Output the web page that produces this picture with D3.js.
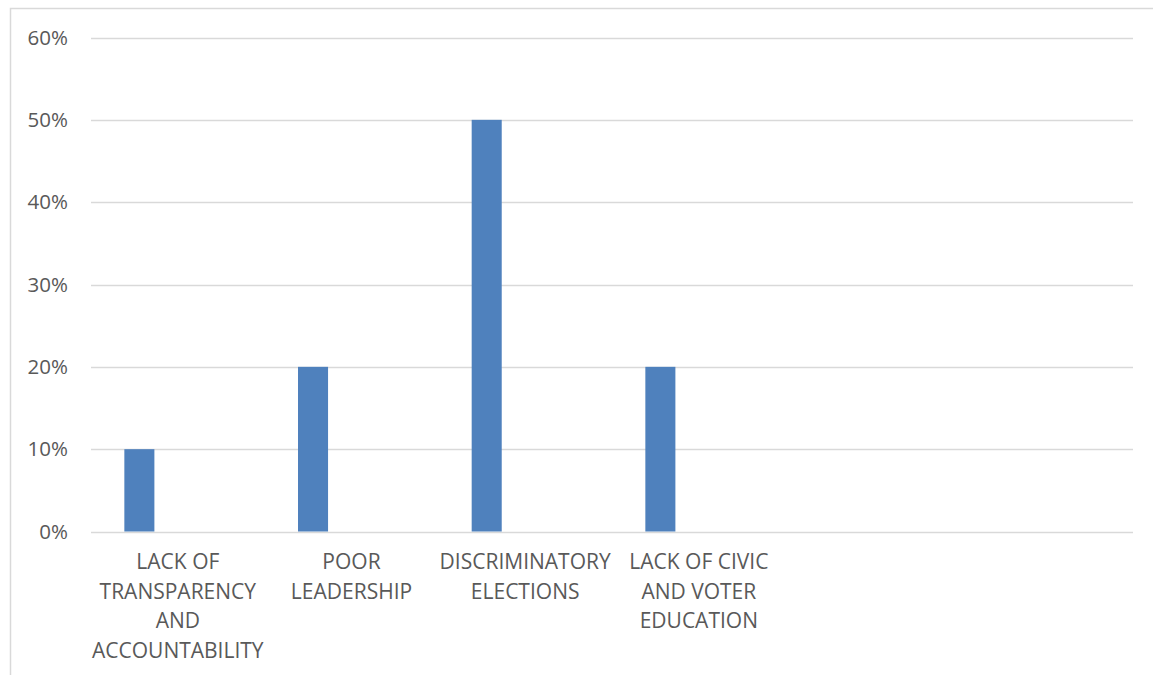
<!DOCTYPE html>
<html>
<head>
<meta charset="utf-8">
<script src="https://cdn.jsdelivr.net/npm/d3@7/dist/d3.min.js"></script>
<style>
  html, body { margin: 0; padding: 0; background: #fff; }
  svg { display: block; font-family: "Open Sans", sans-serif; }
</style>
</head>
<body>
<div id="chart"></div>
<script>
// data
const categories = [
  "LACK OF TRANSPARENCY AND ACCOUNTABILITY",
  "POOR LEADERSHIP",
  "DISCRIMINATORY ELECTIONS",
  "LACK OF CIVIC AND VOTER EDUCATION",
  "",
  ""
];
const values = [0.10, 0.20, 0.50, 0.20, null, null];
const yTicks = [0, 0.1, 0.2, 0.3, 0.4, 0.5, 0.6];

const width = 1153;
const height = 675;
const margin = { top: 37.5, right: 20, bottom: 143.5, left: 91 };

const svg = d3.select("#chart")
  .append("svg")
  .attr("width", width)
  .attr("height", height);

// outer chart frame
svg.append("rect")
  .attr("x", 10.5)
  .attr("y", 8.5)
  .attr("width", 1300)
  .attr("height", 800)
  .attr("fill", "none")
  .attr("stroke", "#d9d9d9")
  .attr("stroke-width", 1.5);

const idx = categories.map((d, i) => i);

const x = d3.scaleBand()
  .domain(idx)
  .range([margin.left, 1133])
  .padding(0);

const y = d3.scaleLinear()
  .domain([0, 0.6])
  .range([531.5, margin.top]);

// gridlines
svg.append("g")
  .selectAll("line")
  .data(yTicks)
  .join("line")
  .attr("x1", margin.left)
  .attr("x2", 1133)
  .attr("y1", d => Math.round(y(d)) + 0.5)
  .attr("y2", d => Math.round(y(d)) + 0.5)
  .attr("stroke", "#d9d9d9")
  .attr("stroke-width", 1.5);

// y labels
svg.append("g")
  .selectAll("text")
  .data(yTicks)
  .join("text")
  .attr("x", 68)
  .attr("y", d => y(d))
  .attr("dy", "0.35em")
  .attr("text-anchor", "end")
  .attr("fill", "#595959")
  .style("font-size", "20.5px")
  .text(d3.format(".0%"));

// bars (first series sits left in each category slot)
const bw = x.bandwidth();
svg.append("g")
  .selectAll("rect")
  .data(values.map((v, i) => ({ i, v })).filter(d => d.v != null))
  .join("rect")
  .attr("x", d => x(d.i) + bw * 0.192)
  .attr("width", bw * 0.173)
  .attr("y", d => y(d.v))
  .attr("height", d => y(0) - y(d.v))
  .attr("fill", "#4f81bd");

// category labels with wrapping
function wrapWords(text, maxW, measure) {
  const words = text.split(" ");
  const lines = [];
  let line = "";
  words.forEach(w => {
    const t = line ? line + " " + w : w;
    if (measure(t) > maxW && line) {
      lines.push(line);
      line = w;
    } else {
      line = t;
    }
  });
  if (line) lines.push(line);
  return lines;
}

const labelSize = "21px";
const measurer = svg.append("text").style("font-size", labelSize).attr("visibility", "hidden");
const measure = s => { measurer.text(s); return measurer.node().getComputedTextLength(); };

const labelG = svg.append("g");
categories.forEach((c, i) => {
  if (!c) return;
  const lines = wrapWords(c, bw, measure);
  const t = labelG.append("text")
    .attr("text-anchor", "middle")
    .attr("fill", "#595959")
    .style("font-size", labelSize);
  lines.forEach((ln, k) => {
    t.append("tspan")
      .attr("x", x(i) + bw / 2)
      .attr("y", 569 + k * 29.5)
      .text(ln);
  });
});
measurer.remove();
</script>
</body>
</html>
